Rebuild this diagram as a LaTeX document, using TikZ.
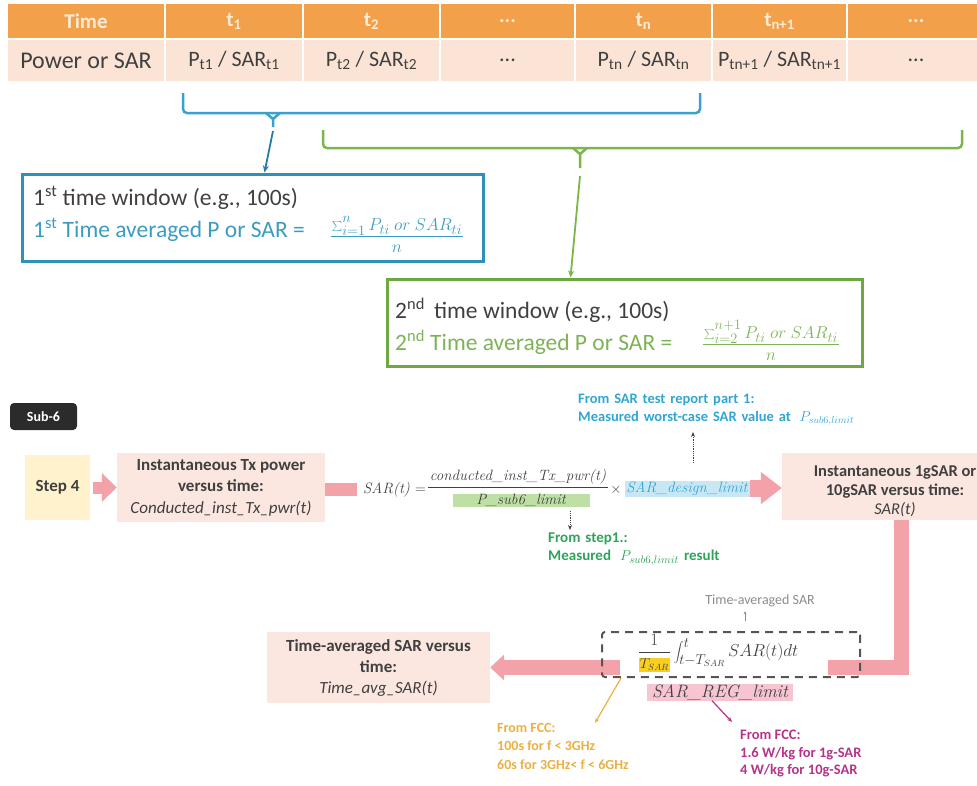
\documentclass[tikz,border=0pt]{standalone}
\usepackage{fontspec}
\setmainfont{Carlito}
\usetikzlibrary{arrows.meta,calc}
\definecolor{hdrc}{HTML}{F2A04A}
\definecolor{hdrtxt}{HTML}{FEEBD4}
\definecolor{rowc}{HTML}{FBE4D5}
\definecolor{txt}{HTML}{404040}
\definecolor{bracec}{HTML}{3AA2CA}
\definecolor{bluearr}{HTML}{2A7AA8}
\definecolor{bboxc}{HTML}{2F91B8}
\definecolor{bluetxt}{HTML}{3C9CC0}
\definecolor{greenc}{HTML}{7AB648}
\definecolor{gboxc}{HTML}{6EA845}
\definecolor{greentxt}{HTML}{7DB356}
\definecolor{pinkbox}{HTML}{FBE6E0}
\definecolor{pinkarr}{HTML}{F2A2A8}
\definecolor{stepc}{HTML}{FFF2CC}
\definecolor{subc}{HTML}{2B2B2B}
\definecolor{annblue}{HTML}{31A5D3}
\definecolor{anngreen}{HTML}{2FA35A}
\definecolor{annorange}{HTML}{EBB040}
\definecolor{annpurple}{HTML}{B5338A}
\definecolor{yhl}{HTML}{F9D020}
\definecolor{ghl}{HTML}{BFE0A5}
\definecolor{bhl}{HTML}{C7E7F5}
\definecolor{phl}{HTML}{F7C5D2}
\definecolor{graytxt}{HTML}{8C8C8C}
\definecolor{dashc}{HTML}{555555}
\newcommand\fsz[2]{\fontsize{#1}{#2}\selectfont}
\newcommand\lmi{\fontfamily{lmr}\itshape}
\begin{document}
\begin{tikzpicture}[x=1pt,y=-1pt,
  hcell/.style={fill=hdrc, draw=white, line width=1.2, minimum height=36, inner sep=0, text=hdrtxt, font=\bfseries\fsz{21}{22}},
  rcell/.style={fill=rowc, draw=white, line width=1.2, minimum height=43, inner sep=0, text=txt, font=\fsz{22}{24}},
  pbox/.style={fill=pinkbox, inner sep=0, align=center, text=txt},
  ann/.style={anchor=north west, align=left, inner sep=0},
  thinarr/.style={draw=txt, line width=0.8, densely dotted, -{Stealth[length=5,width=4]}},
]
\useasboundingbox (0,0) rectangle (977,785);

% ---- table ----
\node[hcell, minimum width=158] (h0) at (86,21) {Time};
\node[hcell, minimum width=138] (h1) at (234,21) {t\textsubscript{1}};
\node[hcell, minimum width=137] (h2) at (371.5,21) {t\textsubscript{2}};
\node[hcell, minimum width=135] (h3) at (507.5,21) {...};
\node[hcell, minimum width=137] (h4) at (643.5,21) {t\textsubscript{n}};
\node[hcell, minimum width=135] (h5) at (779.5,21) {t\textsubscript{n+1}};
\node[hcell, minimum width=138] (h6) at (916,21) {...};
\node[rcell, minimum width=158, font=\fsz{24}{26}] (r0) at (86,60.5) {Power or SAR};
\node[rcell, minimum width=138] (r1) at (234,60.5) {P\textsubscript{t1} / SAR\textsubscript{t1}};
\node[rcell, minimum width=137] (r2) at (371.5,60.5) {P\textsubscript{t2} / SAR\textsubscript{t2}};
\node[rcell, minimum width=135] (r3) at (507.5,60.5) {...};
\node[rcell, minimum width=137] (r4) at (643.5,60.5) {P\textsubscript{tn} / SAR\textsubscript{tn}};
\node[rcell, minimum width=135] (r5) at (779.5,60.5) {P\textsubscript{tn+1} / SAR\textsubscript{tn+1}};
\node[rcell, minimum width=138] (r6) at (916,60.5) {...};

% ---- braces ----
\draw[bracec, line width=2.5, rounded corners=4] (183,93) -- (183,113) -- (700,113) -- (700,93);
\draw[bracec, line width=2.5] (266,113) -- (273,119) -- (280,113) (273,119) -- (273,127);
\draw[greenc, line width=2.5, rounded corners=4] (323,130) -- (323,148) -- (962,148) -- (962,130);
\draw[greenc, line width=2.5] (573,148) -- (580,154) -- (587,148) (580,154) -- (580,168);
\coordinate (bb) at (273,131);
\coordinate (gb) at (580,176);

% ---- window boxes ----
\node[draw=bboxc, line width=3, minimum width=461, minimum height=87, inner sep=0] (bbox) at (252.5,217.5) {};
\node[anchor=west, text=txt, font=\fsz{23.5}{25}, inner sep=0] (b1) at (33,198) {1\textsuperscript{st} time window (e.g., 100s)};
\node[anchor=west, text=bluetxt, font=\fsz{23.5}{25}, inner sep=0] (b2) at (33,230) {1\textsuperscript{st} Time averaged P or SAR =};
\node[text=bluetxt, font=\fsz{19}{20}, inner sep=1] (b3) at (397,226) {$\sum_{i=1}^{\raisebox{2pt}{$\scriptstyle n$}} P_{ti}\ or\ SAR_{ti}$};
\draw[bluetxt, line width=1] (b3.south west) -- (b3.south east);
\node[text=bluetxt, font=\fsz{19}{20}, inner sep=0] (b4) at (397,249) {$n$};
\draw[bluearr, line width=1.8, -{Stealth[length=7,width=6]}] (bb) -- ([xshift=12]bbox.north);

\node[draw=gboxc, line width=3, minimum width=475, minimum height=87, inner sep=0] (gbox) at (624.5,322.5) {};
\node[anchor=west, text=txt, font=\fsz{23.5}{25}, inner sep=0] (g1) at (395,310) {2\textsuperscript{nd}\, time window (e.g., 100s)};
\node[anchor=west, text=greentxt, font=\fsz{23.5}{25}, inner sep=0] (g2) at (395,342) {2\textsuperscript{nd} Time averaged P or SAR =};
\node[text=greentxt, font=\fsz{19}{20}, inner sep=1] (g3) at (771,332) {$\sum_{i=2}^{\raisebox{3pt}{$\scriptstyle n+1$}} P_{ti}\ or\ SAR_{ti}$};
\draw[greentxt, line width=1] (g3.south west) -- (g3.south east);
\node[text=greentxt, font=\fsz{19}{20}, inner sep=0] (g4) at (771,357) {$n$};
\draw[greenc, line width=1.8, -{Stealth[length=7,width=6]}] (gb) -- ([xshift=-54]gbox.north);

% ---- Sub-6 flow ----
\node[fill=subc, rounded corners=4, minimum width=67, minimum height=27, inner sep=0, text=white, font=\bfseries\fsz{14}{16}] (sub6) at (43.5,416.5) {Sub-6};
\node[fill=stepc, minimum width=65, minimum height=65, inner sep=0, text=txt, font=\bfseries\fsz{17}{19}] (step4) at (57.5,487.5) {Step 4};
\node[pbox, minimum width=208, minimum height=69, font=\bfseries\fsz{17}{21.5}] (inst) at (221,487.5) {Instantaneous Tx power\\versus time:\\{\mdseries\itshape Conducted\_inst\_Tx\_pwr(t)}};
\node[pbox, minimum width=226, minimum height=67, font=\bfseries\fsz{16.5}{19}] (sarbox) at (895,486.5) {\rule{0pt}{22pt}Instantaneous 1gSAR or\\10gSAR versus time:\\{\mdseries\itshape SAR(t)}\rule[-4pt]{0pt}{4pt}};
\node[pbox, minimum width=223, minimum height=71, font=\bfseries\fsz{17}{21}] (tavg) at (378.5,667.5) {Time-averaged SAR versus\\time:\\{\mdseries\itshape Time\_avg\_SAR(t)}};

\draw[pinkarr, line width=12, shorten <=3, -{Triangle[width=28,length=15]}] (step4.east) -- (inst.west);
\coordinate (barend) at (357,489.5);
\draw[pinkarr, line width=13] (inst.east |- barend) -- (barend);
\coordinate (arrstart) at (750,488);
\draw[pinkarr, line width=17, -{Triangle[width=31,length=21]}] (arrstart) -- (arrstart -| sarbox.west);
\draw[pinkarr, line width=15, -{Triangle[width=25,length=14]}] ([xshift=6]sarbox.south) |- (tavg.east);

% SAR(t) formula
\node[anchor=west, text=txt, font=\fsz{15}{16}\lmi, inner sep=0] (sareq) at (363,490) {SAR(t) \upshape=};
\node[text=txt, font=\fsz{15}{16}\lmi, inner sep=1] (num1) at (518,477) {conducted\_inst\_Tx\_pwr(t)};
\draw[txt, line width=0.9] (428,487) -- (608,487);
\node[fill=ghl, minimum width=137, minimum height=13, inner sep=0, text=txt, font=\fsz{15}{16}\lmi] (den1) at (521,500.5) {P\_sub6\_limit};
\node[text=txt, font=\fsz{15}{16}, inner sep=0] (times) at (616,490) {$\times$};
\node[fill=bhl, minimum width=125, minimum height=16, inner sep=0, text=annblue, font=\fsz{15}{16}\lmi] (design) at (687,489) {SAR\_design\_limit};

\node[ann, text=annblue, text width=300, font=\bfseries\fsz{14.5}{18}] (bann) at (578,394) {From SAR test report part 1:\\Measured worst-case SAR value at \;{\mdseries$P_{sub6,limit}$}};
\draw[thinarr, shorten <=18, shorten >=6] ([xshift=6]design.north) -- ([xshift=6]design.north |- bann.south);
\node[ann, text=anngreen, text width=220, font=\bfseries\fsz{15}{18}] (gann) at (548,533) {From step1.:\\Measured \;{\mdseries$P_{sub6,limit}$} result};
\draw[thinarr, shorten <=4, shorten >=3] ([xshift=49]den1.south) -- ([xshift=49]den1.south |- gann.north);

% time averaged formula
\node[fill=white, minimum width=208, minimum height=40, inner sep=0] (tbg) at (724,655) {};
\node[text=txt, font=\fsz{19}{20}, inner sep=0] (tnum) at (718,653) {\setlength{\fboxsep}{1pt}$\displaystyle\frac{1}{\colorbox{yhl}{$\scriptstyle T_{SAR}$}}\int_{t-T_{SAR}}^{t} SAR(t)dt$};
\node[draw=dashc, dashed, dash pattern=on 8pt off 6pt, line width=2, rounded corners=3, minimum width=258, minimum height=45, inner sep=0] (dbox) at (731,654.5) {};
\node[fill=phl, minimum width=146, minimum height=17, inner sep=0, text=txt, font=\fsz{18}{19}\lmi] (den2) at (720,692) {SAR\_REG\_limit};
\node[text=graytxt, font=\fsz{14}{15}, inner sep=0] (tlabel) at (760,601) {Time-averaged SAR};
\draw[draw=graytxt, line width=0.7, -{Stealth[length=3,width=3]}, shorten <=10, shorten >=4] ([xshift=14]dbox.north) -- ([xshift=-15]tlabel.south);

\node[ann, text=annorange, font=\bfseries\fsz{14}{18.5}] (orng) at (497,723) {From FCC:\\100s for f < 3GHz\\60s for 3GHz< f < 6GHz};
\draw[annorange, line width=1.2, -{Stealth[length=5,width=4]}] ([shift={(20,0)}]dbox.south west) -- ([xshift=98]orng.north west);
\node[ann, text=annpurple, font=\bfseries\fsz{14.5}{17.5}] (purp) at (740,730) {From FCC:\\1.6 W/kg for 1g-SAR\\4 W/kg for 10g-SAR};
\draw[annpurple, line width=1.2, -{Stealth[length=5,width=4]}] ([xshift=-8]den2.south) -- ([shift={(-8,-8)}]purp.north west);
\end{tikzpicture}
\end{document}
